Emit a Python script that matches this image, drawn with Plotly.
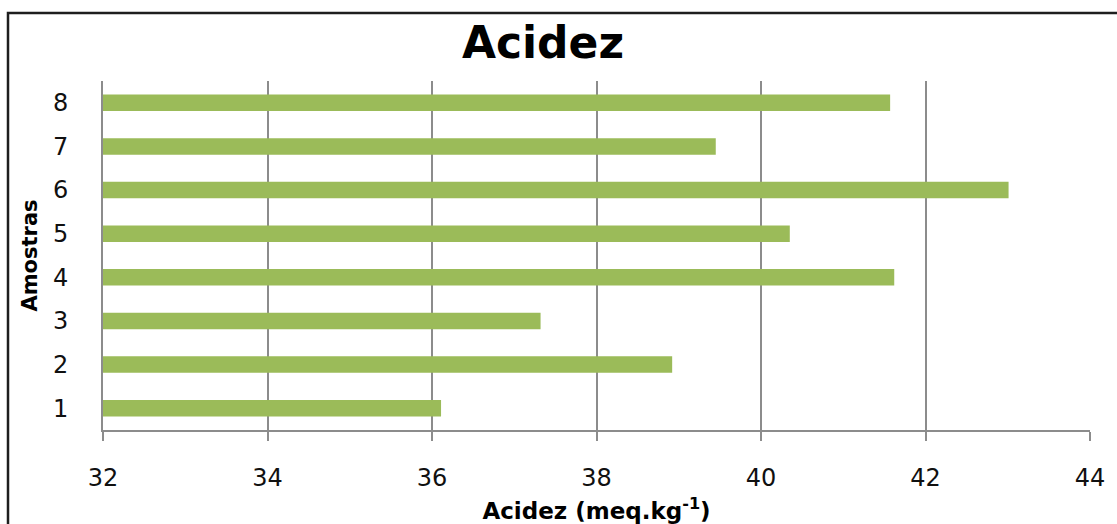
import plotly.graph_objects as go

# Acidity per sample (meq/kg)
amostras = [1, 2, 3, 4, 5, 6, 7, 8]
acidez = [36.11, 38.92, 37.32, 41.62, 40.35, 43.01, 39.45, 41.57]
x_ticks = [32, 34, 36, 38, 40, 42, 44]
base_acidez = 32

FONT = "DejaVu Sans"
GRID = "#8c8c8c"

fig = go.Figure(
    go.Bar(
        x=[v - base_acidez for v in acidez],
        y=amostras,
        base=base_acidez,
        orientation="h",
        width=0.38,
        marker=dict(color="#9bbb59", line=dict(width=0)),
    )
)

fig.update_layout(
    width=1117,
    height=524,
    margin=dict(l=103, r=27, t=81, b=94),
    paper_bgcolor="white",
    plot_bgcolor="white",
    showlegend=False,
    title=dict(
        text="<b>Acidez</b>",
        x=543 / 1117,
        xanchor="center",
        y=1 - 43 / 524,
        yanchor="middle",
        font=dict(family=FONT, size=44, color="#000000"),
    ),
    xaxis=dict(
        range=[32, 44],
        automargin=False,
        tickvals=x_ticks,
        ticktext=[str(t) for t in x_ticks],
        showgrid=True,
        gridcolor=GRID,
        gridwidth=2,
        zeroline=False,
        showline=True,
        linecolor=GRID,
        linewidth=2,
        ticks="outside",
        ticklen=9,
        tickwidth=2,
        tickcolor=GRID,
        ticklabelstandoff=16,
        tickfont=dict(family=FONT, size=24, color="#101010"),
        title=dict(
            text="<b>Acidez (meq.kg<sup>-1</sup>)</b>",
            font=dict(family=FONT, size=23, color="#000000"),
            standoff=14,
        ),
    ),
    yaxis=dict(
        range=[0.5, 8.5],
        automargin=False,
        tickvals=amostras,
        ticktext=[str(a) for a in amostras],
        showgrid=False,
        zeroline=False,
        showline=True,
        linecolor=GRID,
        linewidth=2,
        ticks="",
        ticklabelstandoff=28,
        tickfont=dict(family=FONT, size=24, color="#101010"),
        title=dict(
            text="<b>Amostras</b>",
            font=dict(family=FONT, size=21, color="#000000"),
            standoff=10,
        ),
    ),
    shapes=[
        # outer chart frame
        dict(
            type="rect",
            xref="paper",
            yref="paper",
            x0=(8 - 103) / 987,
            x1=(1130 - 103) / 987,
            y0=(430 - 540) / 349,
            y1=(430 - 13) / 349,
            line=dict(color="#1e1e1e", width=2.5),
            fillcolor="rgba(0,0,0,0)",
            layer="above",
        )
    ],
)

fig.write_html("out.html")
